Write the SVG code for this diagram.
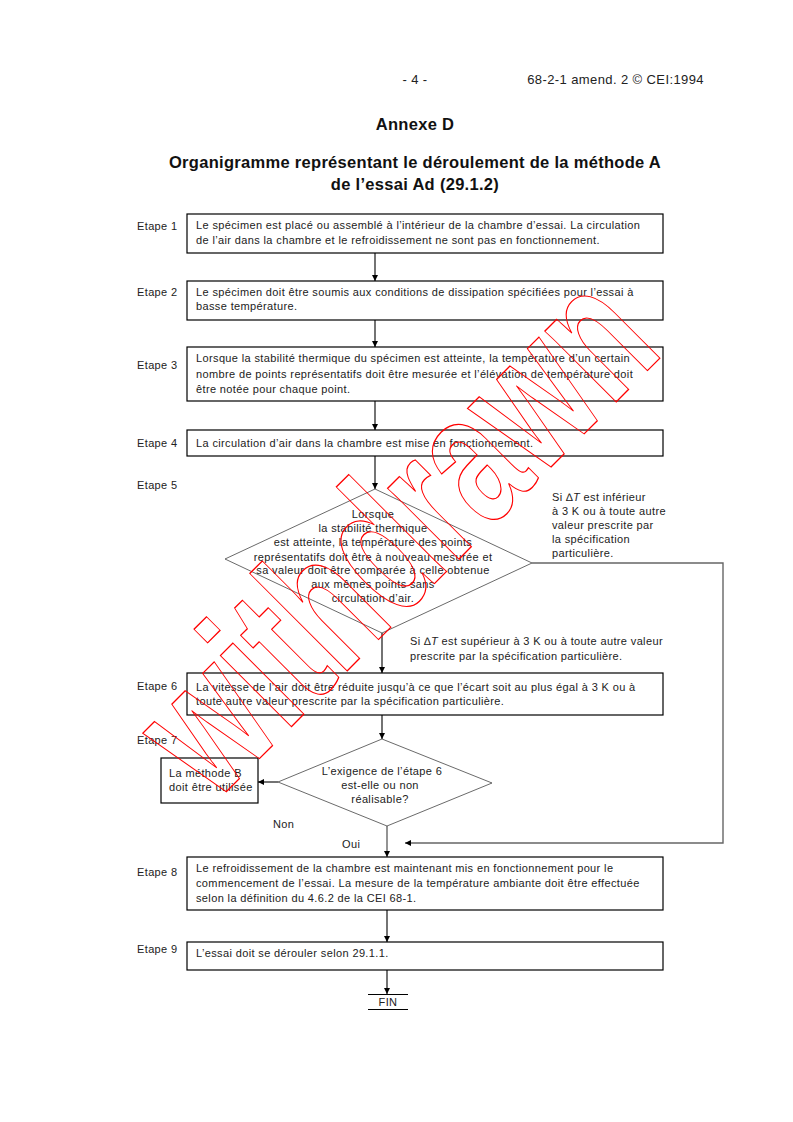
<svg xmlns="http://www.w3.org/2000/svg" width="793" height="1122" viewBox="0 0 793 1122">
<style>
text{font-family:"Liberation Sans",Arial,sans-serif;fill:#222}
.t{font-size:11px;letter-spacing:0.37px}
.h{font-size:13px;letter-spacing:0.4px}
.b{font-size:16.5px;font-weight:bold;fill:#111;letter-spacing:0.3px}
.m{text-anchor:middle}
.box{fill:none;stroke:#000;stroke-width:1.2}
.dia{fill:none;stroke:#444;stroke-width:0.8}
.c{fill:none;stroke:#000;stroke-width:1.1}
.cg{fill:none;stroke:#666;stroke-width:1.4}
.wm{font-size:190px;font-weight:bold;fill:none;stroke:#f00;stroke-width:1.3}
</style>
<defs>
<marker id="ah" viewBox="0 0 10 10" refX="10" refY="5" markerWidth="6" markerHeight="8" markerUnits="userSpaceOnUse" orient="auto"><path d="M0,0 L10,5 L0,10 z" fill="#000"/></marker>
</defs>
<rect width="793" height="1122" fill="#fff"/>
<g id="header">
<text class="h m" x="415" y="84">- 4 -</text>
<text class="h" x="704" y="84" text-anchor="end">68-2-1 amend. 2 © CEI:1994</text>
<text class="b m" x="415" y="130">Annexe D</text>
<text class="b m" x="415" y="168">Organigramme représentant le déroulement de la méthode A</text>
<text class="b m" x="415" y="190">de l’essai Ad (29.1.2)</text>
</g>
<g id="labels">
<text class="t" x="137" y="230">Etape 1</text>
<text class="t" x="137" y="296">Etape 2</text>
<text class="t" x="137" y="369">Etape 3</text>
<text class="t" x="137" y="447">Etape 4</text>
<text class="t" x="137" y="489">Etape 5</text>
<text class="t" x="137" y="690">Etape 6</text>
<text class="t" x="137" y="744">Etape 7</text>
<text class="t" x="137" y="876">Etape 8</text>
<text class="t" x="137" y="953">Etape 9</text>
</g>
<g id="connectors">
<line class="c" x1="375" y1="253" x2="375" y2="281" marker-end="url(#ah)"/>
<line class="c" x1="375" y1="320" x2="375" y2="347" marker-end="url(#ah)"/>
<line class="c" x1="375" y1="401" x2="375" y2="430" marker-end="url(#ah)"/>
<line class="c" x1="375" y1="456" x2="375" y2="489" marker-end="url(#ah)"/>
<line class="c" x1="382" y1="633" x2="382" y2="673" marker-end="url(#ah)"/>
<line class="c" x1="382" y1="715" x2="382" y2="739" marker-end="url(#ah)"/>
<line class="c" x1="278" y1="782" x2="258" y2="782" marker-end="url(#ah)"/>
<line class="cg" x1="387" y1="826" x2="387" y2="857" marker-end="url(#ah)"/>
<polyline class="cg" points="532,563 723,563 723,843 405,843" marker-end="url(#ah)"/>
<line class="c" x1="387" y1="910" x2="387" y2="942" marker-end="url(#ah)"/>
<line class="c" x1="387" y1="970" x2="387" y2="994" marker-end="url(#ah)"/>
<text class="t" x="552" y="501">Si ∆<tspan font-style="italic">T</tspan> est inférieur</text>
<text class="t" x="552" y="515">à 3 K ou à toute autre</text>
<text class="t" x="552" y="529">valeur prescrite par</text>
<text class="t" x="552" y="543">la spécification</text>
<text class="t" x="552" y="557">particulière.</text>
<text class="t" x="410" y="645">Si ∆<tspan font-style="italic">T</tspan> est supérieur à 3 K ou à toute autre valeur</text>
<text class="t" x="410" y="660">prescrite par la spécification particulière.</text>
<text class="t" x="273" y="828">Non</text>
<text class="t" x="342" y="848">Oui</text>
</g>
<g id="step1">
<rect class="box" x="187" y="214" width="476" height="39"/>
<text class="t" x="196" y="229">Le spécimen est placé ou assemblé à l’intérieur de la chambre d’essai. La circulation</text>
<text class="t" x="196" y="244">de l’air dans la chambre et le refroidissement ne sont pas en fonctionnement.</text>
</g>
<g id="step2">
<rect class="box" x="187" y="281" width="476" height="39"/>
<text class="t" x="196" y="296">Le spécimen doit être soumis aux conditions de dissipation spécifiées pour l’essai à</text>
<text class="t" x="196" y="310">basse température.</text>
</g>
<g id="step3">
<rect class="box" x="187" y="347" width="476" height="54"/>
<text class="t" x="196" y="362">Lorsque la stabilité thermique du spécimen est atteinte, la température d’un certain</text>
<text class="t" x="196" y="378">nombre de points représentatifs doit être mesurée et l’élévation de température doit</text>
<text class="t" x="196" y="393">être notée pour chaque point.</text>
</g>
<g id="step4">
<rect class="box" x="187" y="430" width="476" height="26"/>
<text class="t" x="196" y="447">La circulation d’air dans la chambre est mise en fonctionnement.</text>
</g>
<g id="step5">
<polygon class="dia" points="375,489 532,563 382,633 225,559"/>
<text class="t m" x="373" y="518">Lorsque</text>
<text class="t m" x="373" y="532">la stabilité thermique</text>
<text class="t m" x="373" y="546">est atteinte, la température des points</text>
<text class="t m" x="373" y="561">représentatifs doit être à nouveau mesurée et</text>
<text class="t m" x="373" y="574">sa valeur doit être comparée à celle obtenue</text>
<text class="t m" x="373" y="588">aux mêmes points sans</text>
<text class="t m" x="373" y="602">circulation d’air.</text>
</g>
<g id="step6">
<rect class="box" x="187" y="673" width="476" height="42"/>
<text class="t" x="196" y="691">La vitesse de l’air doit être réduite jusqu’à ce que l’écart soit au plus égal à 3 K ou à</text>
<text class="t" x="196" y="705">toute autre valeur prescrite par la spécification particulière.</text>
</g>
<g id="step7">
<polygon class="dia" points="382,739 492,783 387,826 278,782"/>
<text class="t m" x="382" y="775">L’exigence de l’étape 6</text>
<text class="t m" x="380" y="789">est-elle ou non</text>
<text class="t m" x="380" y="803">réalisable?</text>
</g>
<g id="methodB">
<rect class="box" x="161" y="758" width="97" height="45"/>
<text class="t" x="169" y="777">La méthode B</text>
<text class="t" x="169" y="791">doit être utilisée</text>
</g>
<g id="step8">
<rect class="box" x="187" y="857" width="476" height="53"/>
<text class="t" x="196" y="872">Le refroidissement de la chambre est maintenant mis en fonctionnement pour le</text>
<text class="t" x="196" y="887">commencement de l’essai. La mesure de la température ambiante doit être effectuée</text>
<text class="t" x="196" y="902">selon la définition du 4.6.2 de la CEI 68-1.</text>
</g>
<g id="step9">
<rect class="box" x="187" y="942" width="476" height="28"/>
<text class="t" x="196" y="957">L’essai doit se dérouler selon 29.1.1.</text>
</g>
<g id="fin">
<line x1="368" y1="994.5" x2="408" y2="994.5" stroke="#000" stroke-width="1"/>
<line x1="368" y1="1009.5" x2="408" y2="1009.5" stroke="#000" stroke-width="1"/>
<text class="t m" x="388" y="1006">FIN</text>
</g>
<g id="watermark">
<text class="wm" transform="translate(214,804) rotate(-45) scale(0.68,1)">withdrawn</text>
</g>
</svg>
